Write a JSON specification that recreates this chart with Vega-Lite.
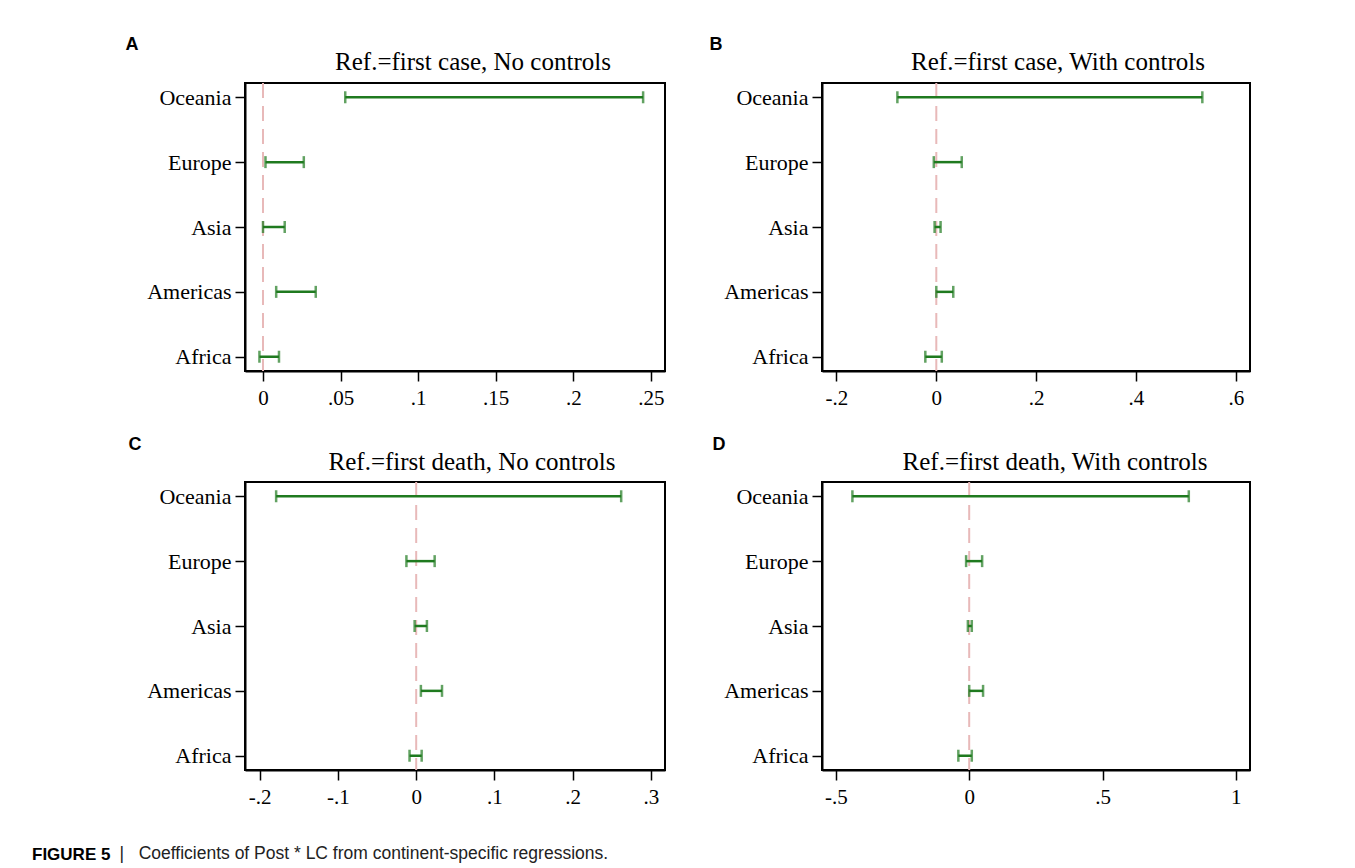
{
  "$schema": "https://vega.github.io/schema/vega-lite/v6.json",
  "background": "white",
  "padding": {"left": 32, "top": 34, "right": 5, "bottom": 5},
  "datasets": {
    "coef": [
      {"panel": "A", "continent": "Oceania", "lo": 0.053, "hi": 0.245},
      {"panel": "A", "continent": "Europe", "lo": 0.0016, "hi": 0.0263},
      {"panel": "A", "continent": "Asia", "lo": 0.0, "hi": 0.014},
      {"panel": "A", "continent": "Americas", "lo": 0.0085, "hi": 0.034},
      {"panel": "A", "continent": "Africa", "lo": -0.0023, "hi": 0.0103},
      {"panel": "B", "continent": "Oceania", "lo": -0.078, "hi": 0.533},
      {"panel": "B", "continent": "Europe", "lo": -0.005, "hi": 0.051},
      {"panel": "B", "continent": "Asia", "lo": -0.0034, "hi": 0.0086},
      {"panel": "B", "continent": "Americas", "lo": 0.0, "hi": 0.034},
      {"panel": "B", "continent": "Africa", "lo": -0.022, "hi": 0.011},
      {"panel": "C", "continent": "Oceania", "lo": -0.179, "hi": 0.262},
      {"panel": "C", "continent": "Europe", "lo": -0.0125, "hi": 0.0236},
      {"panel": "C", "continent": "Asia", "lo": -0.002, "hi": 0.0137},
      {"panel": "C", "continent": "Americas", "lo": 0.006, "hi": 0.033},
      {"panel": "C", "continent": "Africa", "lo": -0.0085, "hi": 0.007},
      {"panel": "D", "continent": "Oceania", "lo": -0.438, "hi": 0.8235},
      {"panel": "D", "continent": "Europe", "lo": -0.0116, "hi": 0.0485},
      {"panel": "D", "continent": "Asia", "lo": -0.005, "hi": 0.0097},
      {"panel": "D", "continent": "Americas", "lo": 0.0, "hi": 0.052},
      {"panel": "D", "continent": "Africa", "lo": -0.0407, "hi": 0.0097}
    ]
  },
  "title": {
    "text": "FIGURE 5",
    "subtitle": "\u200b\u00a0\u00a0\u00a0\u00a0\u00a0\u00a0\u00a0\u00a0\u00a0\u00a0\u00a0\u00a0\u00a0\u00a0\u00a0\u00a0\u00a0\u00a0| \u00a0\u00a0Coefficients of Post * LC from continent-specific regressions.",
    "orient": "bottom",
    "anchor": "start",
    "frame": "bounds",
    "font": "Liberation Sans",
    "fontSize": 17,
    "fontWeight": "bold",
    "color": "black",
    "subtitleFont": "Liberation Sans",
    "subtitleFontSize": 17.5,
    "subtitleFontWeight": "normal",
    "subtitleColor": "#222",
    "subtitlePadding": -19,
    "dx": -92,
    "offset": 39
  },
  "columns": 2,
  "bounds": "flush",
  "spacing": {"row": 111, "column": 157},
  "concat": [
    {
      "width": 420, "height": 288,
      "title": {"text": "Ref.=first case, No controls", "dx": 18},
      "layer": [
        {"data": {"values": [{"ref": 0}]},
         "mark": {"type": "rule", "color": "#e8b9b9", "strokeWidth": 2, "strokeDash": [15, 8]},
         "encoding": {"x": {"field": "ref", "type": "quantitative"}}},
        {"data": {"name": "coef"}, "transform": [{"filter": "datum.panel == 'A'"}],
         "layer": [
           {"mark": {"type": "rule", "color": "#1f7a1f", "strokeWidth": 2.5},
            "encoding": {"x": {"field": "lo", "type": "quantitative"}, "x2": {"field": "hi"}, "y": {"field": "continent", "type": "nominal"}}},
           {"mark": {"type": "tick", "orient": "vertical", "color": "#1f7a1f", "size": 12, "thickness": 2.5},
            "encoding": {"x": {"field": "lo", "type": "quantitative"}, "y": {"field": "continent", "type": "nominal"}}},
           {"mark": {"type": "tick", "orient": "vertical", "color": "#1f7a1f", "size": 12, "thickness": 2.5},
            "encoding": {"x": {"field": "hi", "type": "quantitative"}, "y": {"field": "continent", "type": "nominal"}}}
         ]}
      ],
      "encoding": {
        "x": {"type": "quantitative", "scale": {"domain": [-0.0116, 0.2591], "nice": false, "zero": false},
              "axis": {"title": null, "values": [0, 0.05, 0.1, 0.15, 0.2, 0.25]}},
        "y": {"type": "nominal", "scale": {"type": "point", "padding": 0.22, "domain": ["Oceania", "Europe", "Asia", "Americas", "Africa"]},
              "axis": {"title": "A", "titleX": -120, "titleY": -39}}
      }
    },
    {
      "width": 428, "height": 288,
      "title": {"text": "Ref.=first case, With controls", "dx": 22},
      "layer": [
        {"data": {"values": [{"ref": 0}]},
         "mark": {"type": "rule", "color": "#e8b9b9", "strokeWidth": 2, "strokeDash": [15, 8]},
         "encoding": {"x": {"field": "ref", "type": "quantitative"}}},
        {"data": {"name": "coef"}, "transform": [{"filter": "datum.panel == 'B'"}],
         "layer": [
           {"mark": {"type": "rule", "color": "#1f7a1f", "strokeWidth": 2.5},
            "encoding": {"x": {"field": "lo", "type": "quantitative"}, "x2": {"field": "hi"}, "y": {"field": "continent", "type": "nominal"}}},
           {"mark": {"type": "tick", "orient": "vertical", "color": "#1f7a1f", "size": 12, "thickness": 2.5},
            "encoding": {"x": {"field": "lo", "type": "quantitative"}, "y": {"field": "continent", "type": "nominal"}}},
           {"mark": {"type": "tick", "orient": "vertical", "color": "#1f7a1f", "size": 12, "thickness": 2.5},
            "encoding": {"x": {"field": "hi", "type": "quantitative"}, "y": {"field": "continent", "type": "nominal"}}}
         ]}
      ],
      "encoding": {
        "x": {"type": "quantitative", "scale": {"domain": [-0.229, 0.6285], "nice": false, "zero": false},
              "axis": {"title": null, "values": [-0.2, 0, 0.2, 0.4, 0.6]}},
        "y": {"type": "nominal", "scale": {"type": "point", "padding": 0.22, "domain": ["Oceania", "Europe", "Asia", "Americas", "Africa"]},
              "axis": {"title": "B", "titleX": -113, "titleY": -39}}
      }
    },
    {
      "width": 420, "height": 288,
      "title": {"text": "Ref.=first death, No controls", "dx": 17},
      "layer": [
        {"data": {"values": [{"ref": 0}]},
         "mark": {"type": "rule", "color": "#e8b9b9", "strokeWidth": 2, "strokeDash": [15, 8]},
         "encoding": {"x": {"field": "ref", "type": "quantitative"}}},
        {"data": {"name": "coef"}, "transform": [{"filter": "datum.panel == 'C'"}],
         "layer": [
           {"mark": {"type": "rule", "color": "#1f7a1f", "strokeWidth": 2.5},
            "encoding": {"x": {"field": "lo", "type": "quantitative"}, "x2": {"field": "hi"}, "y": {"field": "continent", "type": "nominal"}}},
           {"mark": {"type": "tick", "orient": "vertical", "color": "#1f7a1f", "size": 12, "thickness": 2.5},
            "encoding": {"x": {"field": "lo", "type": "quantitative"}, "y": {"field": "continent", "type": "nominal"}}},
           {"mark": {"type": "tick", "orient": "vertical", "color": "#1f7a1f", "size": 12, "thickness": 2.5},
            "encoding": {"x": {"field": "hi", "type": "quantitative"}, "y": {"field": "continent", "type": "nominal"}}}
         ]}
      ],
      "encoding": {
        "x": {"type": "quantitative", "scale": {"domain": [-0.2188, 0.318], "nice": false, "zero": false},
              "axis": {"title": null, "values": [-0.2, -0.1, 0, 0.1, 0.2, 0.3]}},
        "y": {"type": "nominal", "scale": {"type": "point", "padding": 0.22, "domain": ["Oceania", "Europe", "Asia", "Americas", "Africa"]},
              "axis": {"title": "C", "titleX": -117, "titleY": -38}}
      }
    },
    {
      "width": 428, "height": 288,
      "title": {"text": "Ref.=first death, With controls", "dx": 19},
      "layer": [
        {"data": {"values": [{"ref": 0}]},
         "mark": {"type": "rule", "color": "#e8b9b9", "strokeWidth": 2, "strokeDash": [15, 8]},
         "encoding": {"x": {"field": "ref", "type": "quantitative"}}},
        {"data": {"name": "coef"}, "transform": [{"filter": "datum.panel == 'D'"}],
         "layer": [
           {"mark": {"type": "rule", "color": "#1f7a1f", "strokeWidth": 2.5},
            "encoding": {"x": {"field": "lo", "type": "quantitative"}, "x2": {"field": "hi"}, "y": {"field": "continent", "type": "nominal"}}},
           {"mark": {"type": "tick", "orient": "vertical", "color": "#1f7a1f", "size": 12, "thickness": 2.5},
            "encoding": {"x": {"field": "lo", "type": "quantitative"}, "y": {"field": "continent", "type": "nominal"}}},
           {"mark": {"type": "tick", "orient": "vertical", "color": "#1f7a1f", "size": 12, "thickness": 2.5},
            "encoding": {"x": {"field": "hi", "type": "quantitative"}, "y": {"field": "continent", "type": "nominal"}}}
         ]}
      ],
      "encoding": {
        "x": {"type": "quantitative", "scale": {"domain": [-0.552, 1.053], "nice": false, "zero": false},
              "axis": {"title": null, "values": [-0.5, 0, 0.5, 1]}},
        "y": {"type": "nominal", "scale": {"type": "point", "padding": 0.22, "domain": ["Oceania", "Europe", "Asia", "Americas", "Africa"]},
              "axis": {"title": "D", "titleX": -110, "titleY": -38}}
      }
    }
  ],
  "config": {
    "view": {"stroke": "black", "strokeWidth": 2},
    "axis": {
      "grid": false,
      "domain": true,
      "domainColor": "black",
      "domainWidth": 2,
      "tickColor": "black",
      "tickWidth": 1.5,
      "tickSize": 10,
      "labelColor": "black",
      "labelFont": "Liberation Serif",
      "labelFontSize": 21,
      "labelPadding": 6,
      "titleAngle": 0,
      "titleAlign": "left",
      "titleBaseline": "middle",
      "titleFont": "Liberation Sans",
      "titleFontSize": 18,
      "titleFontWeight": "bold",
      "titleColor": "black"
    },
    "axisX": {
      "labelExpr": "datum.value == 0 ? '0' : replace(toString(datum.value), '0.', '.')"
    },
    "axisY": {"labelFontSize": 22, "labelPadding": 4},
    "title": {
      "font": "Liberation Serif",
      "fontSize": 25,
      "fontWeight": "normal",
      "color": "black",
      "anchor": "middle",
      "frame": "group",
      "offset": -40
    }
  }
}
